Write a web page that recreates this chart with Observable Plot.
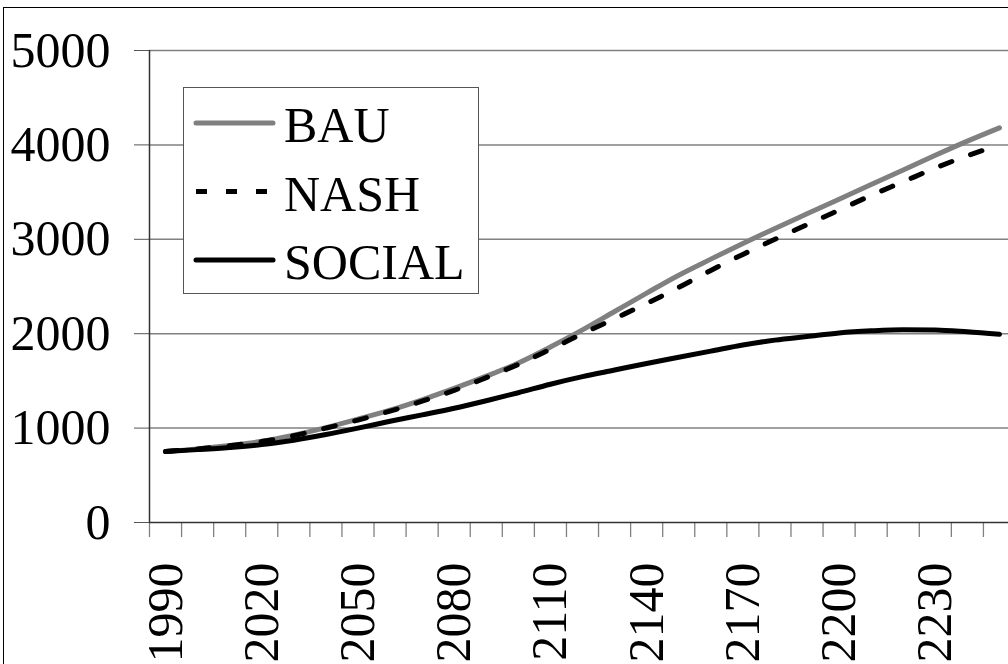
<!DOCTYPE html>
<html>
<head>
<meta charset="utf-8">
<script src="https://cdn.jsdelivr.net/npm/d3@7"></script>
<script src="https://cdn.jsdelivr.net/npm/@observablehq/plot@0.6"></script>
<style>
  html, body { margin: 0; padding: 0; width: 1008px; height: 664px; overflow: hidden; background: #fff; }
  #frame { position: absolute; left: 3px; top: 7px; width: 1100px; height: 800px; border: 1.5px solid #000; box-sizing: border-box; }
  #chart { position: absolute; left: 0; top: 0; width: 1030px; height: 700px; }
  #chart svg { max-width: none !important; width: 1030px !important; height: 700px !important; }
  #legend { position: absolute; left: 183px; top: 87px; }
</style>
</head>
<body>
<div id="frame"></div>
<div id="chart"></div>
<div id="legend"></div>
<script>
// ---- data ----
const years = [1990, 2000, 2010, 2020, 2030, 2040, 2050, 2060, 2070, 2080, 2090, 2100, 2110, 2120,
               2130, 2140, 2150, 2160, 2170, 2180, 2190, 2200, 2210, 2220, 2230, 2240, 2250];
const bau = [752, 780, 815, 860, 925, 1005, 1095, 1190, 1300, 1420, 1550, 1690, 1860, 2040,
             2235, 2430, 2620, 2790, 2955, 3115, 3270, 3425, 3580, 3735, 3890, 4040, 4181];
const nash = [752, 780, 814, 858, 920, 1000, 1085, 1180, 1285, 1400, 1535, 1675, 1835, 2000,
              2160, 2320, 2490, 2670, 2840, 3000, 3155, 3310, 3465, 3610, 3755, 3885, 4000];
const social = [752, 772, 795, 825, 872, 932, 1000, 1072, 1140, 1210, 1290, 1375, 1465, 1545,
                1615, 1685, 1750, 1815, 1880, 1932, 1970, 2008, 2030, 2042, 2040, 2020, 1993];
const seriesNames = ["BAU", "NASH", "SOCIAL"];
const yTicks = [0, 1000, 2000, 3000, 4000, 5000];
const xLabelYears = [1990, 2020, 2050, 2080, 2110, 2140, 2170, 2200, 2230];

// category boundaries (Excel-style ticks between categories)
const xEdges = years.map(y => y - 5).concat([years[years.length - 1] + 5]);

const rows = (vals) => years.map((y, i) => ({year: y, value: vals[i]}));
const FONT = "'Liberation Serif', 'Times New Roman', Times, serif";
const FS = 50;

const chart = Plot.plot({
  width: 1030,
  height: 700,
  marginLeft: 149,
  marginRight: 15,
  marginTop: 50,
  marginBottom: 178,
  x: {domain: [xEdges[0], xEdges[xEdges.length - 1]], axis: null},
  y: {domain: [0, 5000], axis: null},
  style: {fontFamily: FONT, fontSize: FS + "px", color: "#000", background: "transparent", overflow: "visible"},
  marks: [
    Plot.gridY(yTicks.filter(d => d > 0), {stroke: "#808080", strokeOpacity: 1, strokeWidth: 1.5}),
    Plot.axisY(yTicks, {tickSize: 15, tickPadding: 24, stroke: "#555", fill: "#000", fontSize: FS, label: null, tickFormat: d => String(d)}),
    Plot.axisX(xEdges, {tickSize: 15, stroke: "#808080", strokeWidth: 1.3, tickFormat: () => "", label: null}),
    Plot.axisX(xLabelYears, {tickSize: 0, tickRotate: -90, tickPadding: 40, fill: "#000", fontSize: FS, label: null, tickFormat: d => String(d)}),
    Plot.ruleX([xEdges[0]], {stroke: "#333", strokeWidth: 1.5}),
    Plot.ruleY([0], {stroke: "#333", strokeWidth: 1.5}),
    Plot.line(rows(bau), {x: "year", y: "value", stroke: "#808080", strokeWidth: 5, strokeLinecap: "round", curve: "monotone-x"}),
    Plot.line(rows(nash), {x: "year", y: "value", stroke: "#000", strokeWidth: 5, strokeDasharray: "12,20", curve: "monotone-x"}),
    Plot.line(rows(social), {x: "year", y: "value", stroke: "#000", strokeWidth: 5, strokeLinecap: "round", curve: "monotone-x"})
  ]
});
document.getElementById("chart").appendChild(chart);

// ---- legend (HTML/SVG overlay) ----
const legendStyles = [
  {stroke: "#808080", width: 5, dash: null, cap: "round"},
  {stroke: "#000", width: 5, dash: "11,19", cap: "butt"},
  {stroke: "#000", width: 5, dash: null, cap: "round"}
];
const lw = 296, lh = 207;
const lsvg = d3.create("svg").attr("width", lw).attr("height", lh).style("overflow", "visible");
lsvg.append("rect").attr("x", 0.5).attr("y", 0.5).attr("width", lw - 1).attr("height", lh - 1)
  .attr("fill", "#fff").attr("stroke", "#555").attr("stroke-width", 1);
seriesNames.forEach((name, i) => {
  const cy = 36 + i * 68.5;
  const s = legendStyles[i];
  const ln = lsvg.append("line").attr("x1", 13).attr("x2", 90).attr("y1", cy).attr("y2", cy)
    .attr("stroke", s.stroke).attr("stroke-width", s.width).attr("stroke-linecap", s.cap);
  if (s.dash) ln.attr("stroke-dasharray", s.dash);
  lsvg.append("text").attr("x", 101).attr("y", cy + 19).attr("font-family", FONT)
    .attr("font-size", FS).attr("fill", "#000").text(name);
});
document.getElementById("legend").appendChild(lsvg.node());
</script>
</body>
</html>
